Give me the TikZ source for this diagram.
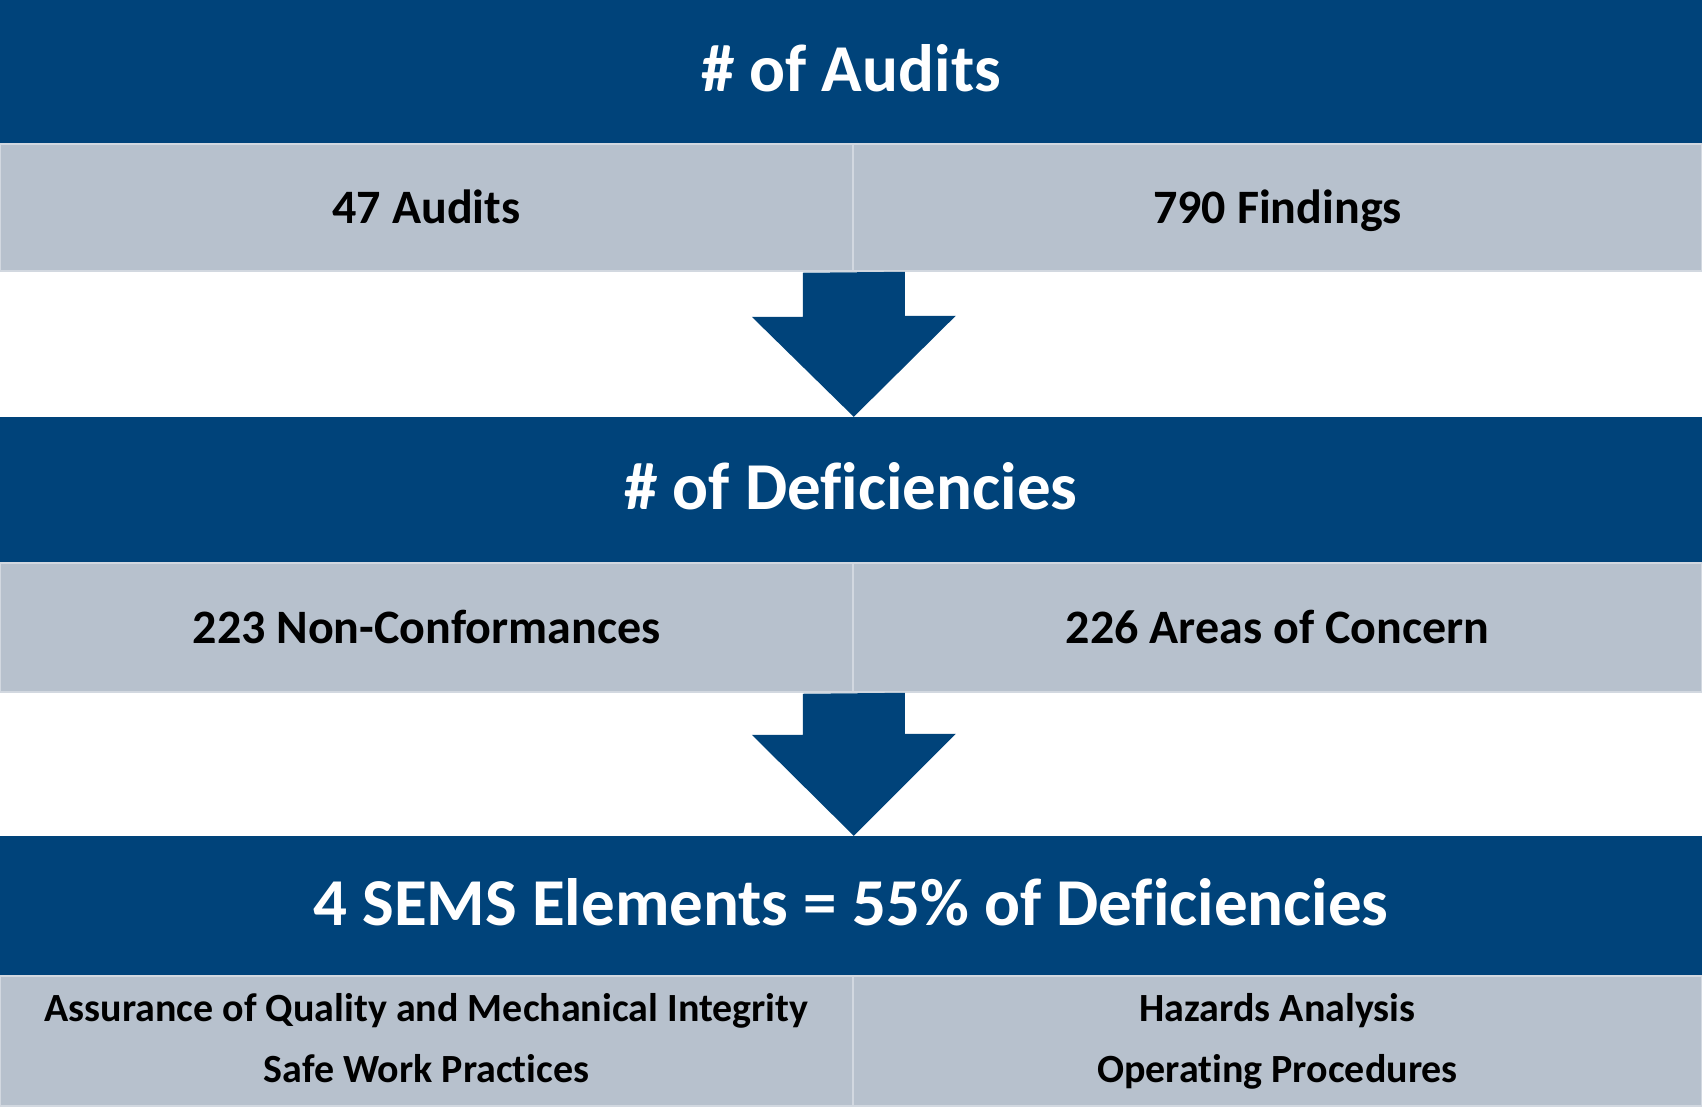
\documentclass[tikz,border=0pt]{standalone}
\usepackage{fontspec}
\setmainfont{Carlito}[Ligatures=NoCommon]
\usepackage{tikz}

\definecolor{auditblue}{RGB}{0,67,122}
\definecolor{auditgray}{RGB}{183,193,205}
\definecolor{auditline}{RGB}{210,216,224}

\tikzset{
	band/.style={fill=auditblue, text=white, inner sep=0pt, minimum width=1702pt,
		text height=43pt, text depth=5pt, font=\bfseries\fontsize{67}{80}\selectfont},
	cell/.style={fill=auditgray, draw=auditline, line width=1.5pt, text=black, inner sep=0pt,
		text height=31pt, text depth=0pt, font=\bfseries\fontsize{48}{58}\selectfont},
	smallcell/.style={fill=auditgray, draw=auditline, line width=1.5pt, text=black, inner sep=0pt,
		align=center, font=\bfseries\fontsize{40}{61}\selectfont}
}

\begin{document}
\begin{tikzpicture}[x=1pt, y=-1pt]
		\useasboundingbox (0,0) rectangle (1702,1106);
		
		\node[band, minimum height=144pt] (audits) at (851,72) {\# of Audits};
		\node[cell, minimum width=853pt, minimum height=127pt] (audl) at (426.5,207.5) {47 Audits};
		\node[cell, minimum width=849pt, minimum height=127pt] (audr) at (1277.5,207.5) {790 Findings};
		
		\node[band, minimum height=146pt] (defs) at (851,490) {\# of Deficiencies};
		\node[cell, minimum width=853pt, minimum height=129pt] (defl) at (426.5,627.5) {223 Non-Conformances};
		\node[cell, minimum width=849pt, minimum height=129pt] (defr) at (1277.5,627.5) {226 Areas of Concern};
		
		\node[band, minimum height=140pt] (sems) at (851,906) {4 SEMS Elements = 55\% of Deficiencies};
		\node[smallcell, minimum width=853pt, minimum height=130pt] (semsl) at (426.5,1041)
			{Assurance of Quality and Mechanical Integrity\\Safe Work Practices\vphantom{p}};
		\node[smallcell, minimum width=849pt, minimum height=130pt] (semsr) at (1277.5,1041)
			{Hazards Analysis\\Operating Procedures};
		
		\fill[auditblue] (audl.south east) ++(-51,1) -- ++(0,44) -- ++(-51,0)
			-- (audl.south east |- defs.north) -- ++(102,-101) -- ++(-51,0) -- ++(0,-44) -- cycle;
		
		\fill[auditblue] (defl.south east) ++(-51,1) -- ++(0,41) -- ++(-51,0)
			-- (defl.south east |- sems.north) -- ++(102,-102) -- ++(-51,0) -- ++(0,-41) -- cycle;
	\end{tikzpicture}
\end{document}
